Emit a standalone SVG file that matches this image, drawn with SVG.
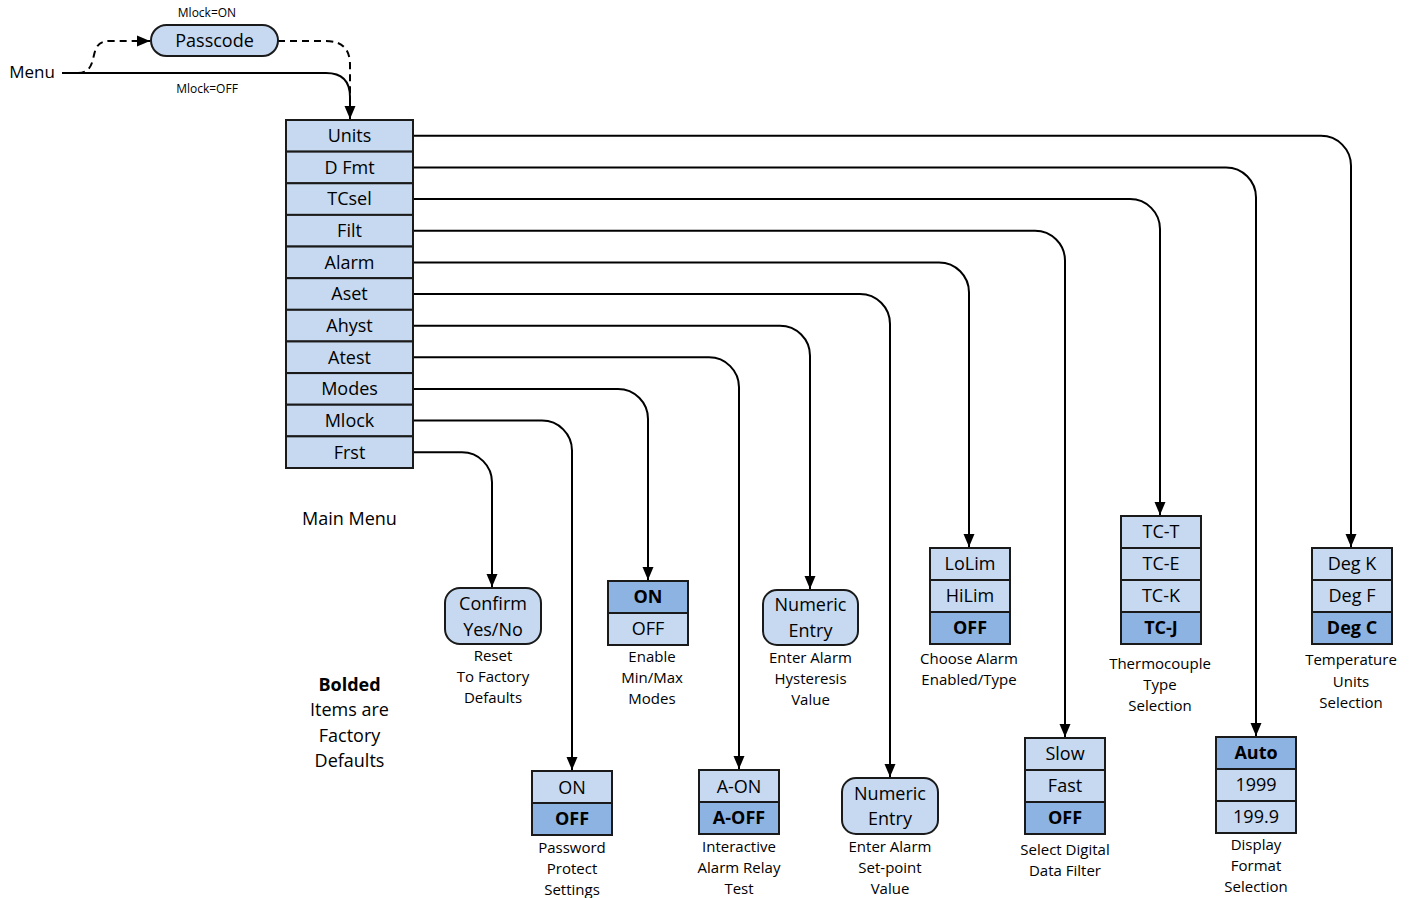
<svg xmlns="http://www.w3.org/2000/svg" width="1413" height="898" viewBox="0 0 1413 898">
<defs>
<marker id="arr" markerUnits="userSpaceOnUse" markerWidth="14" markerHeight="14" viewBox="0 0 14 14" refX="13" refY="7" orient="auto">
<path d="M0,1.5 L13,7 L0,12.5 Z" fill="#000"/>
</marker>
<style>
text{font-family:"Open Sans","Liberation Sans",sans-serif;fill:#000;text-anchor:middle}
.t{font-size:18px}
.b{font-size:18px;font-weight:bold}
.s{font-size:15px}
.xs{font-size:12px}
.lt{fill:#C6D9F0;stroke:#1a1a1a;stroke-width:2}
.dk{fill:#8DB3E2;stroke:#1a1a1a;stroke-width:2}
.c{fill:none;stroke:#000;stroke-width:2}
.d{fill:none;stroke:#000;stroke-width:2;stroke-dasharray:7,5}
</style>
</defs>
<rect width="1413" height="898" fill="#fff"/>

<g id="connectors">
<path class="c" d="M62,73 H326 Q350,73 350,97 V119" marker-end="url(#arr)"/>
<path class="d" d="M78,73 C90,73 92,64 94,55 C96,46 99,41 110,41 H150" marker-end="url(#arr)"/>
<path class="d" d="M278,41 H326 Q350,41 350,65 V104"/>
<path class="c" d="M413,135.8 H1321 A30,30 0 0 1 1351,165.8 V547" marker-end="url(#arr)"/>
<path class="c" d="M413,167.5 H1226 A30,30 0 0 1 1256,197.5 V736" marker-end="url(#arr)"/>
<path class="c" d="M413,199.1 H1130 A30,30 0 0 1 1160,229.1 V515" marker-end="url(#arr)"/>
<path class="c" d="M413,230.7 H1035 A30,30 0 0 1 1065,260.7 V737" marker-end="url(#arr)"/>
<path class="c" d="M413,262.4 H939 A30,30 0 0 1 969,292.4 V547" marker-end="url(#arr)"/>
<path class="c" d="M413,294 H860 A30,30 0 0 1 890,324 V777" marker-end="url(#arr)"/>
<path class="c" d="M413,325.7 H780 A30,30 0 0 1 810,355.7 V589" marker-end="url(#arr)"/>
<path class="c" d="M413,357.3 H709 A30,30 0 0 1 739,387.3 V769" marker-end="url(#arr)"/>
<path class="c" d="M413,389 H618 A30,30 0 0 1 648,419 V580" marker-end="url(#arr)"/>
<path class="c" d="M413,420.6 H542 A30,30 0 0 1 572,450.6 V770" marker-end="url(#arr)"/>
<path class="c" d="M413,452.3 H462 A30,30 0 0 1 492,482.3 V587" marker-end="url(#arr)"/>
</g>

<g id="labels-top">
<text class="xs" x="207" y="17">Mlock=ON</text>
<text class="xs" x="207" y="93">Mlock=OFF</text>
<text x="32" y="78" style="font-size:17px">Menu</text>
</g>

<g id="passcode">
<rect class="lt" x="151" y="25" width="127" height="31" rx="15.5"/>
<text class="t" x="214.5" y="47">Passcode</text>
</g>

<g id="main-menu">
<rect class="lt" x="286" y="120" width="127" height="31.64"/>
<rect class="lt" x="286" y="151.64" width="127" height="31.64"/>
<rect class="lt" x="286" y="183.27" width="127" height="31.64"/>
<rect class="lt" x="286" y="214.91" width="127" height="31.64"/>
<rect class="lt" x="286" y="246.55" width="127" height="31.64"/>
<rect class="lt" x="286" y="278.18" width="127" height="31.64"/>
<rect class="lt" x="286" y="309.82" width="127" height="31.64"/>
<rect class="lt" x="286" y="341.45" width="127" height="31.64"/>
<rect class="lt" x="286" y="373.09" width="127" height="31.64"/>
<rect class="lt" x="286" y="404.73" width="127" height="31.64"/>
<rect class="lt" x="286" y="436.36" width="127" height="31.64"/>
<text class="t" x="349.5" y="142">Units</text>
<text class="t" x="349.5" y="173.5">D Fmt</text>
<text class="t" x="349.5" y="205">TCsel</text>
<text class="t" x="349.5" y="237">Filt</text>
<text class="t" x="349.5" y="268.5">Alarm</text>
<text class="t" x="349.5" y="300">Aset</text>
<text class="t" x="349.5" y="332">Ahyst</text>
<text class="t" x="349.5" y="363.5">Atest</text>
<text class="t" x="349.5" y="395">Modes</text>
<text class="t" x="349.5" y="427">Mlock</text>
<text class="t" x="349.5" y="458.5">Frst</text>
<text class="t" x="349.5" y="524.5">Main Menu</text>
</g>

<g id="legend">
<text class="b" x="349.5" y="690.5">Bolded</text>
<text class="t" x="349.5" y="715.5">Items are</text>
<text class="t" x="349.5" y="741.5">Factory</text>
<text class="t" x="349.5" y="766.5">Defaults</text>
</g>

<g id="units-opts">
<rect class="lt" x="1312" y="548" width="80" height="32"/>
<rect class="lt" x="1312" y="580" width="80" height="32"/>
<rect class="dk" x="1312" y="612" width="80" height="32"/>
<text class="t" x="1352" y="570">Deg K</text>
<text class="t" x="1352" y="602">Deg F</text>
<text class="b" x="1352" y="634">Deg C</text>
<text class="s" x="1351" y="665">Temperature</text>
<text class="s" x="1351" y="686.5">Units</text>
<text class="s" x="1351" y="707.5">Selection</text>
</g>

<g id="dfmt-opts">
<rect class="dk" x="1216" y="737" width="80" height="32"/>
<rect class="lt" x="1216" y="769" width="80" height="32"/>
<rect class="lt" x="1216" y="801" width="80" height="32"/>
<text class="b" x="1256" y="759">Auto</text>
<text class="t" x="1256" y="791">1999</text>
<text class="t" x="1256" y="823">199.9</text>
<text class="s" x="1256" y="850">Display</text>
<text class="s" x="1256" y="871">Format</text>
<text class="s" x="1256" y="892">Selection</text>
</g>

<g id="tcsel-opts">
<rect class="lt" x="1121" y="516" width="80" height="32"/>
<rect class="lt" x="1121" y="548" width="80" height="32"/>
<rect class="lt" x="1121" y="580" width="80" height="32"/>
<rect class="dk" x="1121" y="612" width="80" height="32"/>
<text class="t" x="1161" y="538">TC-T</text>
<text class="t" x="1161" y="570">TC-E</text>
<text class="t" x="1161" y="602">TC-K</text>
<text class="b" x="1161" y="634">TC-J</text>
<text class="s" x="1160" y="669">Thermocouple</text>
<text class="s" x="1160" y="690">Type</text>
<text class="s" x="1160" y="711">Selection</text>
</g>

<g id="filt-opts">
<rect class="lt" x="1025" y="738" width="80" height="32"/>
<rect class="lt" x="1025" y="770" width="80" height="32"/>
<rect class="dk" x="1025" y="802" width="80" height="32"/>
<text class="t" x="1065" y="760">Slow</text>
<text class="t" x="1065" y="792">Fast</text>
<text class="b" x="1065" y="824">OFF</text>
<text class="s" x="1065" y="855">Select Digital</text>
<text class="s" x="1065" y="876">Data Filter</text>
</g>

<g id="alarm-opts">
<rect class="lt" x="930" y="548" width="80" height="32"/>
<rect class="lt" x="930" y="580" width="80" height="32"/>
<rect class="dk" x="930" y="612" width="80" height="32"/>
<text class="t" x="970" y="570">LoLim</text>
<text class="t" x="970" y="602">HiLim</text>
<text class="b" x="970" y="634">OFF</text>
<text class="s" x="969" y="664">Choose Alarm</text>
<text class="s" x="969" y="685">Enabled/Type</text>
</g>

<g id="aset-opts">
<rect class="lt" x="842" y="778" width="96" height="56" rx="14"/>
<text class="t" x="890" y="799.5">Numeric</text>
<text class="t" x="890" y="824.5">Entry</text>
<text class="s" x="890" y="852">Enter Alarm</text>
<text class="s" x="890" y="873">Set-point</text>
<text class="s" x="890" y="894">Value</text>
</g>

<g id="ahyst-opts">
<rect class="lt" x="763" y="590" width="95" height="55" rx="14"/>
<text class="t" x="810.5" y="611">Numeric</text>
<text class="t" x="810.5" y="636.5">Entry</text>
<text class="s" x="810.5" y="663">Enter Alarm</text>
<text class="s" x="810.5" y="684">Hysteresis</text>
<text class="s" x="810.5" y="705">Value</text>
</g>

<g id="atest-opts">
<rect class="lt" x="699" y="770" width="80" height="32"/>
<rect class="dk" x="699" y="802" width="80" height="32"/>
<text class="t" x="739" y="792.5">A-ON</text>
<text class="b" x="739" y="824">A-OFF</text>
<text class="s" x="739" y="852">Interactive</text>
<text class="s" x="739" y="873">Alarm Relay</text>
<text class="s" x="739" y="894">Test</text>
</g>

<g id="modes-opts">
<rect class="dk" x="608" y="581" width="80" height="32"/>
<rect class="lt" x="608" y="613" width="80" height="32"/>
<text class="b" x="648" y="603">ON</text>
<text class="t" x="648" y="635">OFF</text>
<text class="s" x="652" y="662">Enable</text>
<text class="s" x="652" y="683">Min/Max</text>
<text class="s" x="652" y="704">Modes</text>
</g>

<g id="mlock-opts">
<rect class="lt" x="532" y="771" width="80" height="32"/>
<rect class="dk" x="532" y="803" width="80" height="32"/>
<text class="t" x="572" y="793.5">ON</text>
<text class="b" x="572" y="825">OFF</text>
<text class="s" x="572" y="853">Password</text>
<text class="s" x="572" y="874">Protect</text>
<text class="s" x="572" y="895">Settings</text>
</g>

<g id="frst-opts">
<rect class="lt" x="445" y="588" width="96" height="56" rx="15"/>
<text class="t" x="493" y="609.5">Confirm</text>
<text class="t" x="493" y="635.5">Yes/No</text>
<text class="s" x="493" y="661">Reset</text>
<text class="s" x="493" y="682">To Factory</text>
<text class="s" x="493" y="703">Defaults</text>
</g>
</svg>
